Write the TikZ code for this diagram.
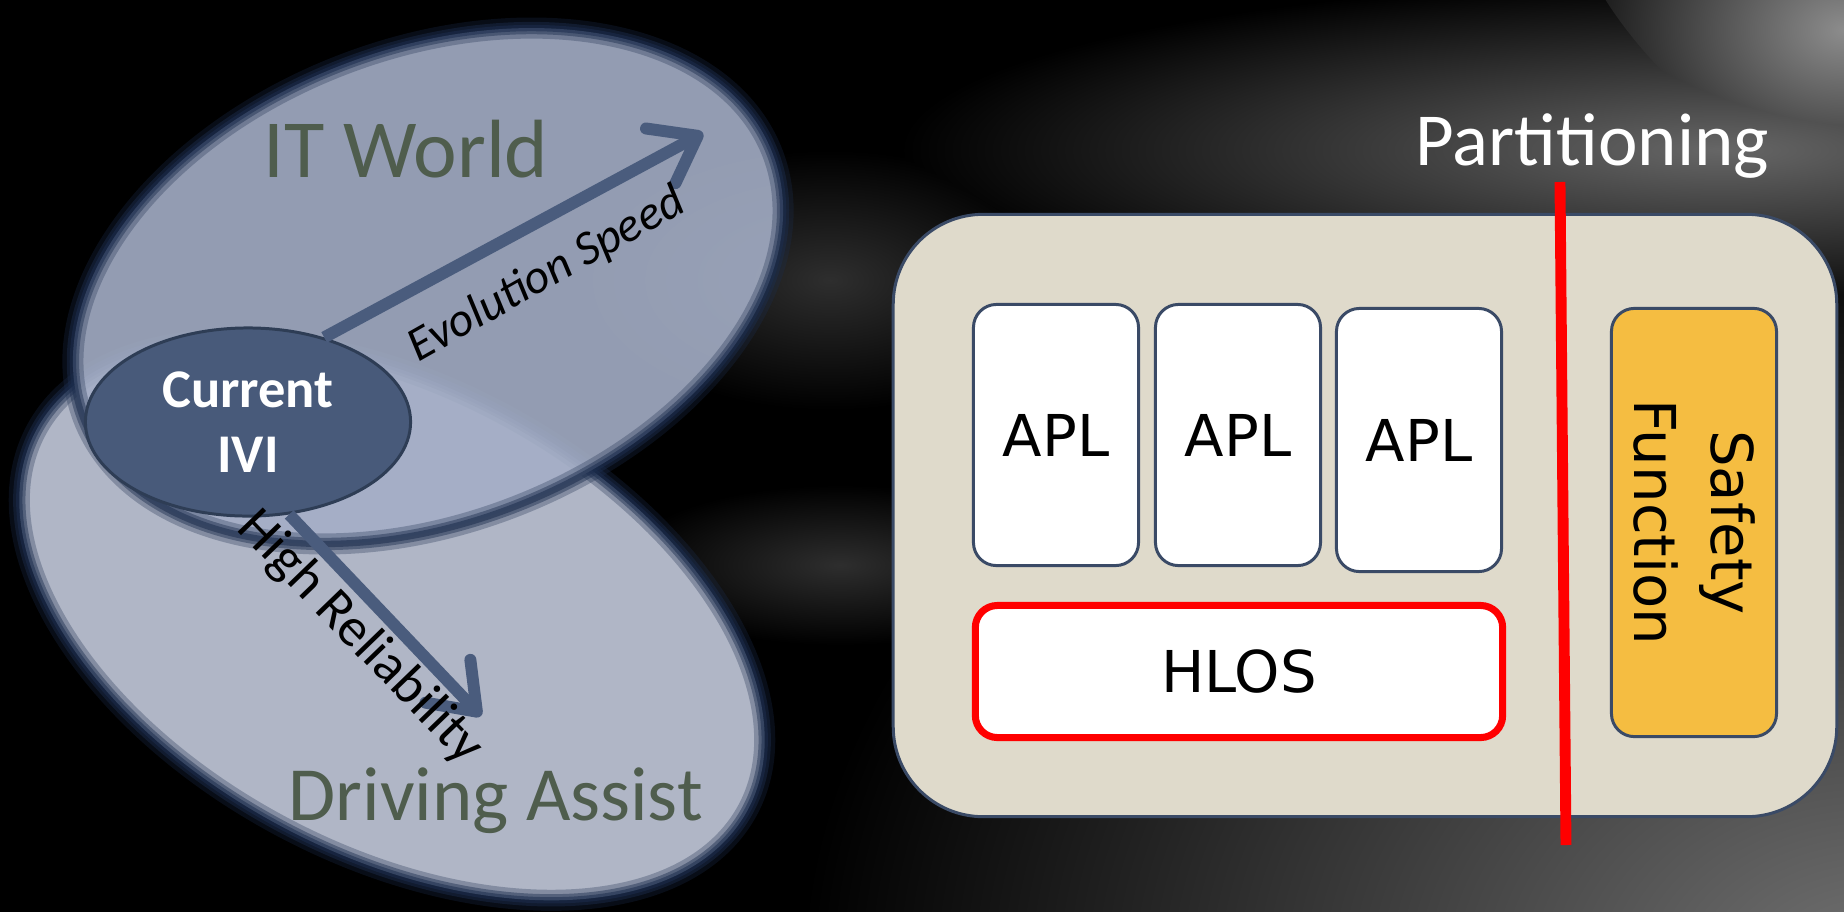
\documentclass[tikz,border=0pt]{standalone}
\usepackage{fontspec}
\setmainfont{Carlito}
\newfontfamily\dejavu{DejaVu Sans}
\usetikzlibrary{arrows.meta,shapes.geometric}

\definecolor{ellA}{HTML}{A4AEC6}
\definecolor{ellB}{HTML}{B0B6C6}
\definecolor{rim}{HTML}{1C2D4D}
\definecolor{ivifill}{HTML}{485A7A}
\definecolor{iviline}{HTML}{2E3D55}
\definecolor{arrowc}{HTML}{4A5C7D}
\definecolor{labelg}{HTML}{4F5D4D}
\definecolor{beige}{HTML}{DFDACB}
\definecolor{boxline}{HTML}{3A4A66}
\definecolor{safetyc}{HTML}{F5BD41}
\definecolor{partred}{HTML}{FF0000}

\pgfdeclareradialshading{glowbr}{\pgfpoint{0bp}{0bp}}{rgb(0bp)=(0.45,0.45,0.45); rgb(25bp)=(0,0,0); rgb(50bp)=(0,0,0)}
\pgfdeclareradialshading{glowtop}{\pgfpoint{0bp}{0bp}}{rgb(0bp)=(0.40,0.40,0.40); rgb(25bp)=(0,0,0); rgb(50bp)=(0,0,0)}
\pgfdeclareradialshading{glowcorner}{\pgfpoint{0bp}{0bp}}{rgb(0bp)=(0.55,0.55,0.55); rgb(25bp)=(0,0,0); rgb(50bp)=(0,0,0)}
\pgfdeclareradialshading{haze}{\pgfpoint{0bp}{0bp}}{rgb(0bp)=(0.18,0.18,0.18); rgb(25bp)=(0,0,0); rgb(50bp)=(0,0,0)}

\tikzset{
  blob/.style={ellipse, inner sep=0, draw=none,
    postaction={draw=rim, line width=6pt, draw opacity=.3},
    postaction={draw=rim, line width=3.5pt, draw opacity=.45},
    postaction={draw=rim, line width=1.8pt, draw opacity=.55}},
  bigtext/.style={text=labelg, inner sep=0, anchor=base west},
  ivinode/.style={ellipse, inner sep=0, fill=ivifill, draw=iviline, line width=0.85pt,
    text=white, align=center, font=\bfseries\fontsize{15.5}{18.5}\selectfont},
  bigarrow/.style={draw=arrowc, line width=3.4pt,
    -{Straight Barb[round, length=0.42cm, width=0.62cm]}},
  axislabel/.style={inner sep=0, text=black},
  bigbox/.style={draw=boxline, line width=0.85pt, fill=beige, rounded corners=0.9cm, inner sep=0},
  aplbox/.style={draw=boxline, line width=0.85pt, fill=white, rounded corners=0.23cm,
    minimum width=1.65cm, minimum height=2.61cm, inner sep=0,
    font=\dejavu\fontsize{16.4}{19}\selectfont},
  hlosbox/.style={draw=partred, line width=2pt, fill=white, rounded corners=0.22cm,
    minimum width=5.27cm, minimum height=1.32cm, inner sep=0,
    font=\dejavu\fontsize{16.4}{19}\selectfont},
  safebox/.style={draw=boxline, line width=0.85pt, fill=safetyc, rounded corners=0.23cm,
    inner sep=0, align=center, font=\dejavu\fontsize{16.4}{21.9}\selectfont},
  partline/.style={draw=partred, line width=3.1pt},
}

\begin{document}
\begin{tikzpicture}[x=0.01cm, y=-0.01cm]
\useasboundingbox (0,0) rectangle (1844,911);
\fill[black] (-20,-20) rectangle (1864,931);
\begin{scope}[blend mode=lighten]
  \shade[shading=glowbr] (1880,980) ellipse [x radius=1080, y radius=780];
  \shade[shading=glowtop] (1720,150) ellipse [x radius=820, y radius=170];
  \shade[shading=glowcorner, rotate around={-35:(1844,30)}] (1844,30) ellipse [x radius=320, y radius=150];
  \shade[shading=haze] (830,280) ellipse [x radius=240, y radius=130];
  \shade[shading=haze] (840,565) ellipse [x radius=220, y radius=80];
\end{scope}

% overlapping worlds
\node[blob, fill=ellB, minimum width=8.06cm, minimum height=4.68cm, rotate=-28] (da) at (392,620) {};
\node[blob, fill=ellA, fill opacity=0.9, minimum width=7.38cm, minimum height=4.74cm, rotate=21] (itw) at (428,286) {};

\node[bigtext, font=\fontsize{23.5}{28}\selectfont] (itwl) at (263,177) {IT World};
\node[bigtext, font=\fontsize{21.8}{26}\selectfont] (dal) at (288,820) {Driving Assist};

% current IVI and arrows
\node[ivinode, minimum width=3.25cm, minimum height=1.88cm] (ivi) at (248,422) {Current\\IVI};
\coordinate (tipE) at (703,133);
\coordinate (tipR) at (481,716);
\draw[bigarrow] (ivi.48) -- (tipE);
\draw[bigarrow] (ivi.-66) -- (tipR);
\node[axislabel, rotate=29.5, font=\itshape\fontsize{13.7}{16}\selectfont] (evo) at (547,275) {Evolution Speed};
\node[axislabel, rotate=-46, font=\fontsize{15.5}{18}\selectfont] (rel) at (360,638) {High Reliability};

% right side architecture
\node[bigbox, minimum width=9.43cm, minimum height=6.02cm] (hw) at (1365,515.5) {};
\node[aplbox] (apl1) at (1056,435) {APL};
\node[aplbox] (apl2) at (1238,435) {APL};
\node[aplbox, minimum height=2.63cm] (apl3) at (1419,440) {APL};
\node[hlosbox] (hlos) at (1239,671.5) {HLOS};
\node[safebox, rotate=-90, minimum width=4.28cm, minimum height=1.65cm] (safe) at (1694,522.5) {Safety\\Function};

\node[inner sep=0, anchor=base west, text=white, font=\fontsize{21.3}{25}\selectfont] (part) at (1415,165) {Partitioning};
\coordinate (pt) at (1560,182);
\coordinate (pb) at (1566,845);
\draw[partline] (pt) -- (pb);
\end{tikzpicture}
\end{document}
